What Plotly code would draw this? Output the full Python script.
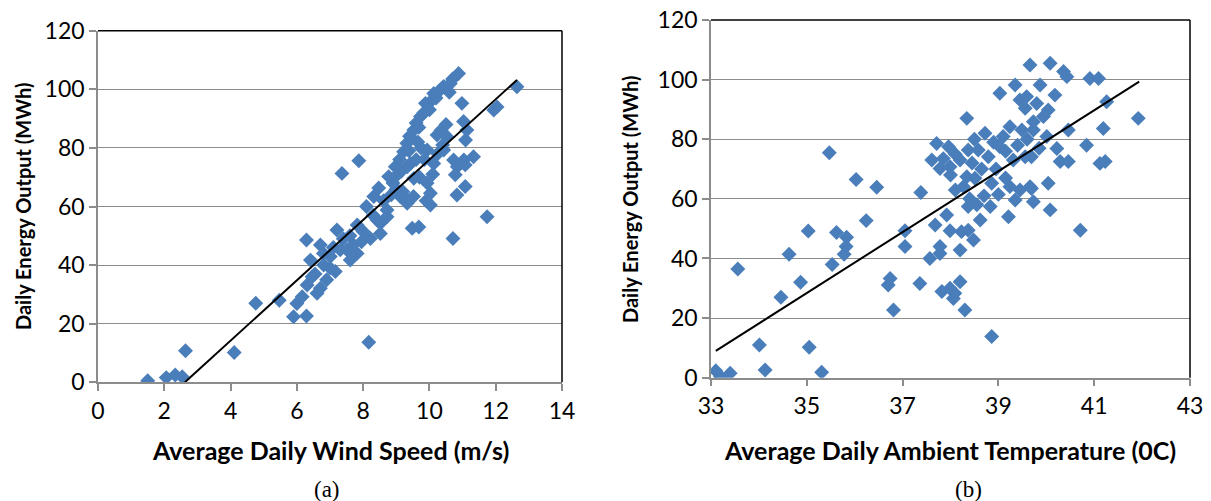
import plotly.graph_objects as go

# ---- Data (a): wind speed vs energy ----
wind_x = [1.50, 2.06, 2.33, 2.54, 2.64, 4.11, 4.76, 5.47, 5.90, 6.29, 6.00, 6.16, 6.31, 6.46, 6.61, 6.71,
          6.41, 6.29, 6.71, 6.81, 7.01, 7.16, 7.21, 7.31, 7.51, 7.61, 7.82, 7.82, 7.36, 7.87, 8.17, 8.22,
          8.42, 8.52, 8.72, 8.32, 8.52, 8.47, 8.62, 8.72, 8.77, 8.97, 9.12, 9.22, 9.28, 9.32, 9.33, 9.38,
          9.43, 9.48, 9.68, 9.53, 9.53, 9.68, 9.73, 9.83, 9.88, 9.93, 9.93, 10.03, 10.03, 10.13, 10.13, 10.23,
          10.20, 10.43, 10.63, 10.88, 10.53, 10.43, 10.73, 10.78, 10.84, 11.04, 11.33, 11.08, 11.09, 11.13,
          11.03, 10.98, 11.08, 10.83, 10.71, 11.74, 11.94, 12.04, 12.64, 9.33, 9.52,
          8.90, 9.00, 9.10, 9.15, 9.40, 9.60, 9.65, 9.75, 9.85, 10.00, 10.05, 10.30, 10.35, 10.50, 10.60, 10.70,
          9.00, 8.85, 9.60, 9.70, 10.10, 10.25, 10.40, 9.90, 9.20, 8.30, 7.95, 7.70, 7.40, 7.00, 6.90, 6.55,
          6.80, 7.10, 7.60, 8.00, 8.10]
wind_y = [0.5, 1.6, 2.5, 1.9, 10.8, 10.2, 27.0, 28.0, 22.4, 22.6, 26.9, 29.2, 33.2, 36.0, 30.4, 32.1,
          41.7, 48.6, 46.9, 40.0, 42.9, 37.8, 52.0, 45.2, 45.2, 41.7, 44.0, 53.7, 71.3, 75.6, 13.7, 49.1,
          55.4, 50.8, 58.8, 63.4, 54.3, 66.3, 62.0, 56.5, 70.2, 73.6, 63.4, 78.7, 62.8, 81.6, 61.1, 79.0,
          74.7, 52.6, 53.0, 69.6, 86.1, 87.0, 90.7, 92.0, 95.2, 79.3, 68.0, 60.5, 64.5, 74.7, 98.6, 84.4,
          97.0, 101.0, 102.0, 105.4, 83.8, 79.3, 75.9, 70.8, 73.6, 75.9, 77.0, 74.2, 82.7, 86.1,
          89.0, 95.2, 66.8, 63.9, 49.1, 56.5, 92.9, 94.0, 100.9, 73.6, 63.4,
          68.0, 70.5, 76.0, 72.0, 84.0, 88.5, 82.0, 80.0, 76.0, 93.0, 96.0, 99.5, 86.0, 88.0, 99.0, 103.5,
          66.0, 64.0, 76.0, 70.0, 71.0, 78.0, 81.0, 62.0, 65.0, 57.0, 48.0, 47.0, 49.0, 39.0, 35.0, 37.0,
          44.0, 46.0, 50.0, 51.5, 60.0]
wind_trend_x = [2.62, 12.64]
wind_trend_y = [0.0, 103.2]

# ---- Data (b): ambient temperature vs energy ----
temp_x = [33.10, 33.20, 33.40, 33.56, 34.01, 34.13, 34.46, 34.63, 34.87, 35.03, 35.05, 35.31, 35.47, 35.53,
          35.62, 35.83, 35.78, 35.82, 36.03, 36.24, 36.46, 37.38, 37.05, 37.05, 36.74, 36.70, 36.81, 37.36,
          37.57, 37.78, 37.82, 37.99, 38.09, 38.06, 38.20, 38.30, 38.86, 37.68, 37.92, 37.99, 38.20, 38.37,
          38.48, 38.62, 38.83, 39.21, 38.37, 38.23, 37.78, 37.71, 37.61, 37.78, 37.96, 37.99, 38.34, 38.20,
          38.34, 38.51, 38.27, 38.37, 38.58, 38.72, 38.79, 38.86, 39.03, 39.10, 39.03, 39.35, 39.45, 39.56,
          39.66, 39.24, 39.49, 39.73, 39.31, 39.56, 39.24, 39.45, 39.69, 39.35, 40.08, 40.36, 40.43, 40.91,
          41.09, 39.87, 40.18, 41.26, 41.92, 39.59, 39.80, 40.04, 39.94, 39.73, 40.46, 41.19, 40.01, 40.84,
          40.22, 40.29, 40.46, 41.12, 41.23, 39.69, 40.04, 39.66, 39.73, 40.08, 40.71,
          38.10, 38.45, 38.65, 38.90, 39.15, 38.50, 38.00, 37.85, 39.40, 39.60, 39.85, 38.70, 39.00, 38.55,
          38.40, 38.10, 38.95, 39.15]
temp_y = [2.3, 0.3, 1.5, 36.5, 11.0, 2.6, 27.0, 41.4, 32.0, 49.2, 10.2, 1.8, 75.5, 38.0,
          48.7, 47.1, 41.4, 44.0, 66.5, 52.7, 63.9, 62.1, 49.3, 44.0, 33.3, 31.1, 22.7, 31.6,
          40.0, 41.7, 28.9, 30.0, 28.3, 26.6, 32.2, 22.7, 13.8, 51.2, 54.6, 49.3, 42.8, 49.5,
          46.2, 52.9, 57.4, 54.0, 57.4, 49.0, 44.0, 78.6, 73.0, 70.2, 77.5, 70.8, 87.0, 73.0,
          67.4, 66.9, 64.1, 76.4, 76.4, 82.0, 74.1, 65.2, 77.5, 80.9, 95.4, 98.2, 93.2, 90.4,
          104.9, 84.2, 83.1, 83.1, 73.0, 74.1, 64.1, 63.0, 63.5, 59.6, 105.5, 102.7, 101.0, 100.4,
          100.4, 98.2, 94.8, 92.6, 87.0, 94.3, 92.0, 89.8, 87.6, 85.9, 83.1, 83.6, 80.9, 78.0,
          76.9, 72.5, 72.5, 71.9, 72.5, 74.1, 65.2, 64.1, 59.0, 56.3, 49.5,
          75.0, 72.0, 70.0, 79.0, 76.0, 80.0, 68.0, 73.5, 78.0, 80.0, 77.0, 61.0, 61.5, 58.0,
          60.0, 63.0, 70.0, 67.0]
temp_trend_x = [33.10, 41.94]
temp_trend_y = [9.0, 99.3]

x_ticks_a = [0, 2, 4, 6, 8, 10, 12, 14]
x_ticks_b = [33, 35, 37, 39, 41, 43]
y_ticks = [0, 20, 40, 60, 80, 100, 120]

W, H = 1211, 501
OFF = 8  # page body margin offset
BLUE = "#4a7ebb"
GRID = "#8c8c8c"
TICKFONT = dict(family="Lato", size=23, color="black")
XTITLEFONT = dict(family="Lato", size=25, color="black")
YTITLEFONT = dict(family="Lato", size=20, color="black")

fig = go.Figure()
fig.add_trace(go.Scatter(x=wind_x, y=wind_y, mode="markers", xaxis="x", yaxis="y",
                         marker=dict(symbol="diamond", size=11.5, color=BLUE, line=dict(width=0)),
                         showlegend=False))
fig.add_trace(go.Scatter(x=wind_trend_x, y=wind_trend_y, mode="lines", xaxis="x", yaxis="y",
                         line=dict(color="black", width=2), showlegend=False))
fig.add_trace(go.Scatter(x=temp_x, y=temp_y, mode="markers", xaxis="x2", yaxis="y2",
                         marker=dict(symbol="diamond", size=11.5, color=BLUE, line=dict(width=0)),
                         showlegend=False))
fig.add_trace(go.Scatter(x=temp_trend_x, y=temp_trend_y, mode="lines", xaxis="x2", yaxis="y2",
                         line=dict(color="black", width=2), showlegend=False))

def px_dom(a, b):
    return [(a - OFF) / W, (b - OFF) / W]

def py_dom(top, bottom):
    return [(H - (bottom - OFF)) / H, (H - (top - OFF)) / H]

common_x = dict(showgrid=False, zeroline=False, showline=True, linecolor=GRID, linewidth=1.5,
                ticks="outside", ticklen=7, tickcolor=GRID, tickwidth=1.5, tickfont=TICKFONT,
                automargin=False, ticklabeloverflow="allow")
common_y = dict(showgrid=True, gridcolor=GRID, gridwidth=1.3, zeroline=False, showline=True,
                linecolor=GRID, linewidth=1.5, ticks="outside", ticklen=7, tickcolor=GRID,
                tickwidth=1.5, tickfont=TICKFONT, tickvals=y_ticks, range=[0, 120],
                automargin=False, ticklabeloverflow="allow")

fig.update_layout(
    width=W, height=H, paper_bgcolor="white", plot_bgcolor="white",
    margin=dict(l=0, r=0, t=0, b=0, autoexpand=False),
    xaxis=dict(domain=px_dom(98, 562), range=[0, 14], tickvals=x_ticks_a, anchor="y", **common_x),
    yaxis=dict(domain=py_dom(30.7, 382.3), anchor="x", **common_y),
    xaxis2=dict(domain=px_dom(711, 1190), range=[33, 43], tickvals=x_ticks_b, anchor="y2", **common_x),
    yaxis2=dict(domain=py_dom(20, 377.7), anchor="x2", **common_y),
)

# black top/right frame lines
for xr, yr in (("x", "y"), ("x2", "y2")):
    fig.add_shape(type="line", xref=f"{xr} domain", yref=f"{yr} domain", x0=0, x1=1, y0=1, y1=1,
                  line=dict(color="black", width=1.5), layer="above")
    fig.add_shape(type="line", xref=f"{xr} domain", yref=f"{yr} domain", x0=1, x1=1, y0=0, y1=1,
                  line=dict(color="black", width=1.5), layer="above")

def ann(text, x, y, font, angle=0):
    fig.add_annotation(text=text, x=(x - OFF) / W, y=1 - (y - OFF) / H, xref="paper", yref="paper",
                       showarrow=False, font=font, textangle=angle, xanchor="center", yanchor="middle")

ann("<b>Average Daily Wind Speed (m/s)</b>", 330, 450, XTITLEFONT)
ann("<b>Average Daily Ambient Temperature (0C)</b>", 950, 450, XTITLEFONT)
ann("<b>Daily Energy Output (MWh)</b>", 23, 206, YTITLEFONT, angle=-90)
ann("<b>Daily Energy Output (MWh)</b>", 630, 199, YTITLEFONT, angle=-90)
CAP = dict(family="Liberation Serif", size=23, color="black")
ann("(a)", 327, 489, CAP)
ann("(b)", 968, 489, CAP)

fig.write_html("out.html")
